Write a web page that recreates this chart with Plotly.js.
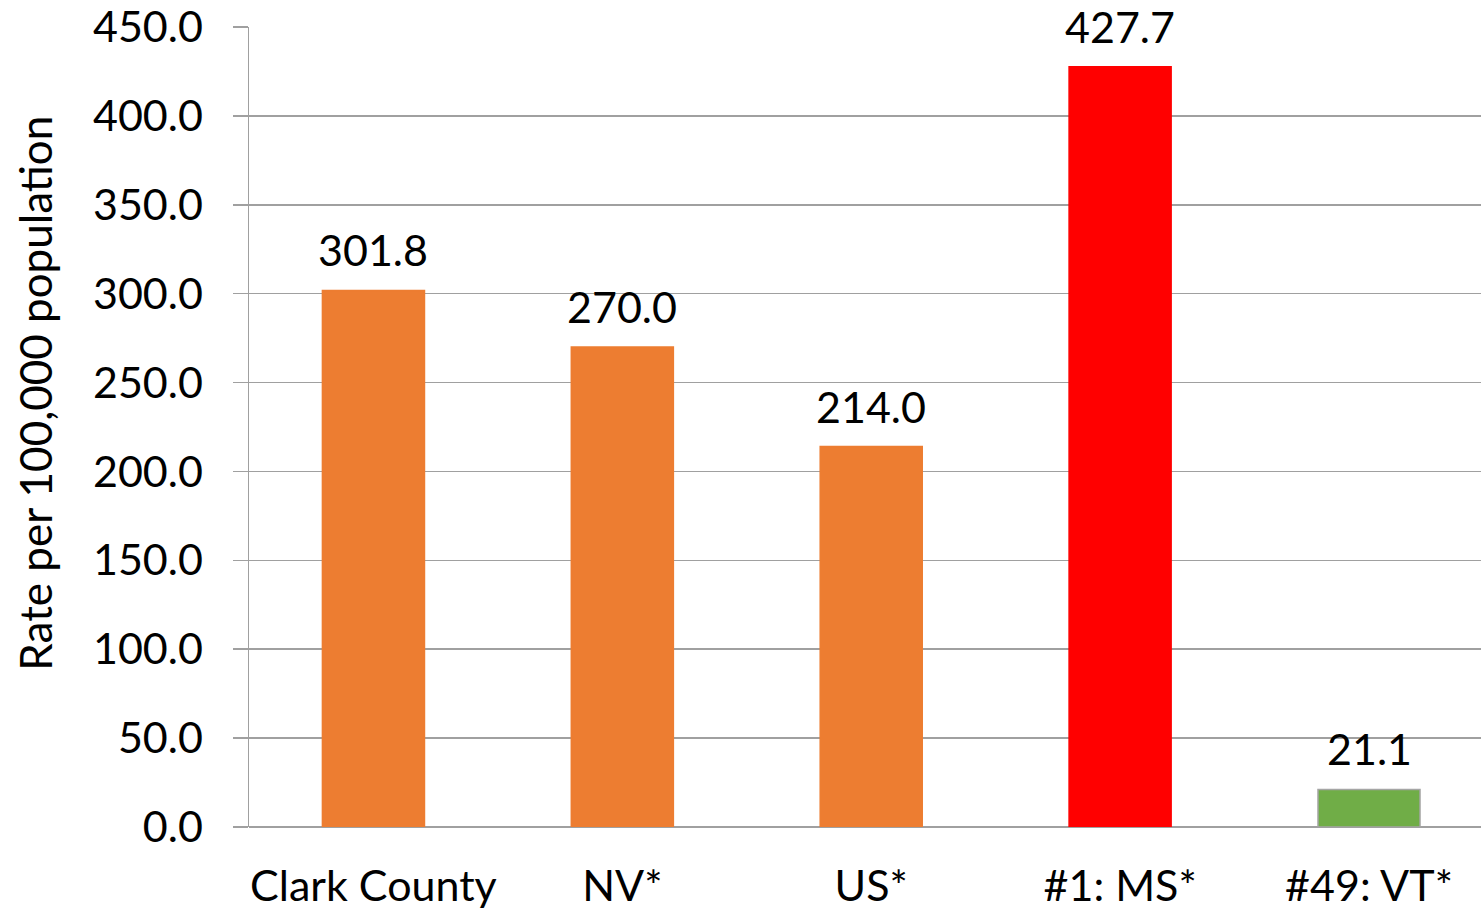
<!DOCTYPE html>
<html>
<head>
<meta charset="utf-8">
<script src="https://cdn.plot.ly/plotly-3.0.1.min.js"></script>
<style>html,body{margin:0;padding:0;background:#fff;}#chart{width:1481px;height:911px;}</style>
</head>
<body>
<div id="chart"></div>
<script>
const categories = ["Clark County", "NV*", "US*", "#1: MS*", "#49: VT*"];
const rates = [301.8, 270.0, 214.0, 427.7, 21.1];
const barColors = ["#ED7D31", "#ED7D31", "#ED7D31", "#FF0000", "#70AD47"];
const barLineColors = ["#ED7D31", "#ED7D31", "#ED7D31", "#FF0000", "#A5A5A5"];
const yTitle = "Rate per 100,000 population";

const font = "Lato, 'Open Sans', sans-serif";
const trace = {
  type: "bar",
  x: categories,
  y: rates,
  width: 0.41,
  marker: {color: barColors, line: {color: barLineColors, width: 1.5}},
  hoverinfo: "skip"
};
const labelAnnotations = categories.map((c, i) => ({
  x: c, y: rates[i], xref: "x", yref: "y",
  text: rates[i].toFixed(1),
  showarrow: false,
  yanchor: "bottom",
  yshift: 13,
  font: {family: font, size: 43, color: "#000"}
}));
const titleAnnotation = {
  xref: "paper", yref: "paper",
  x: -0.174, y: 0.5425,
  xanchor: "center", yanchor: "middle",
  textangle: -90,
  showarrow: false,
  text: yTitle,
  font: {family: font, size: 44, color: "#000"}
};
const layout = {
  width: 1481, height: 911,
  margin: {l: 249, r: 0, t: 27, b: 84},
  paper_bgcolor: "#fff", plot_bgcolor: "#fff",
  showlegend: false,
  font: {family: font, color: "#000"},
  annotations: labelAnnotations.concat([titleAnnotation]),
  xaxis: {
    type: "category",
    range: [-0.5, 4.45],
    tickfont: {family: font, size: 43, color: "#000"},
    ticks: "",
    ticklabelstandoff: 30,
    showgrid: false,
    zeroline: false,
    showline: false,
    automargin: false,
    fixedrange: true
  },
  yaxis: {
    range: [0, 450],
    dtick: 50,
    tick0: 0,
    tickformat: ".1f",
    tickfont: {family: font, size: 43, color: "#000"},
    ticks: "outside",
    ticklen: 15,
    tickcolor: "#A0A0A0",
    tickwidth: 1.5,
    ticklabelstandoff: 21,
    showgrid: true,
    gridcolor: "#A0A0A0",
    gridwidth: 1.5,
    zeroline: true,
    zerolinecolor: "#A0A0A0",
    zerolinewidth: 1.5,
    showline: true,
    linecolor: "#A0A0A0",
    linewidth: 1.5,
    automargin: false,
    fixedrange: true
  }
};
Plotly.newPlot("chart", [trace], layout, {displayModeBar: false, staticPlot: true});
</script>
</body>
</html>
